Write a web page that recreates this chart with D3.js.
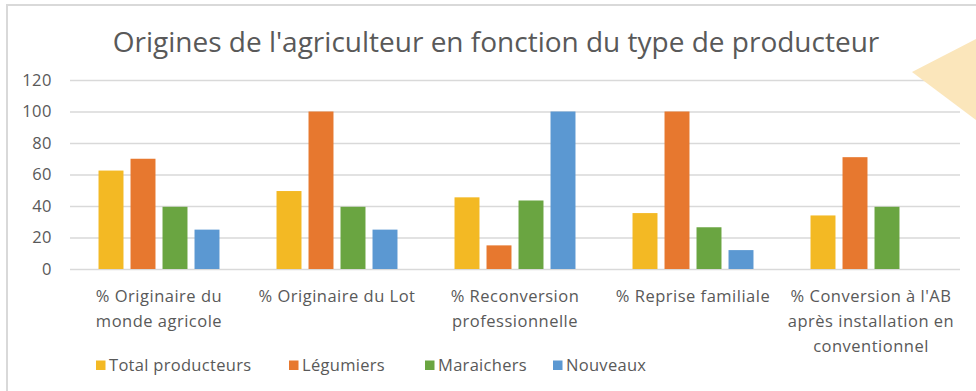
<!DOCTYPE html>
<html>
<head>
<meta charset="utf-8">
<script src="https://cdn.jsdelivr.net/npm/d3@7"></script>
<style>
  html, body { margin: 0; padding: 0; background: #fff; }
  svg { display: block; }
</style>
</head>
<body>
<svg id="chart" width="976" height="391"></svg>
<script>
// Categories (x axis), one wrapped label per group
const categories = [
  ["% Originaire du", "monde agricole"],
  ["% Originaire du Lot"],
  ["% Reconversion", "professionnelle"],
  ["% Reprise familiale"],
  ["% Conversion à l'AB", "après installation en", "conventionnel"]
];
const seriesNames = ["Total producteurs", "Légumiers", "Maraichers", "Nouveaux"];
const totalProducteurs = [62.5, 49.5, 45.5, 35.5, 34];
const legumiers = [70, 100, 15, 100, 71];
const maraichers = [39.5, 39.5, 43.5, 26.5, 39.5];
const nouveaux = [25, 25, 100, 12, 0];
const yTicks = [0, 20, 40, 60, 80, 100, 120];
const colors = ["#F3B924", "#E7782F", "#6AA541", "#5B98D2"];

const title = "Origines de l'agriculteur en fonction du type de producteur";
const font = "'Open Sans', 'Liberation Sans', sans-serif";
const textColor = "#595959";

const series = [totalProducteurs, legumiers, maraichers, nouveaux];
const svg = d3.select("#chart");

// Outer frame of the chart area
svg.append("path")
  .attr("d", "M7,391 V5 H976")
  .attr("fill", "none")
  .attr("stroke", "#d9d9d9")
  .attr("stroke-width", 2);

// Title
svg.append("text")
  .attr("x", 496).attr("y", 52)
  .attr("text-anchor", "middle")
  .attr("font-family", font)
  .attr("font-size", 28)
  .attr("fill", textColor)
  .text(title);

const plot = { left: 70, right: 960, top: 80, bottom: 269 };

const x0 = d3.scaleBand()
  .domain(d3.range(categories.length))
  .range([plot.left, plot.right]);

const x1 = d3.scaleBand()
  .domain(d3.range(seriesNames.length))
  .range([25, 153])
  .paddingInner(0.22)
  .paddingOuter(0.11);

const y = d3.scaleLinear().domain([0, 120]).range([plot.bottom, plot.top]);

// Gridlines and y labels
const yAxis = d3.axisLeft(y).tickValues(yTicks)
  .tickSize(-(plot.right - plot.left));
const gy = svg.append("g")
  .attr("transform", `translate(${plot.left},0)`)
  .call(yAxis);
gy.select(".domain").remove();
gy.selectAll(".tick line").attr("stroke", "#d9d9d9").attr("stroke-width", 1.5);
gy.selectAll(".tick text")
  .attr("x", -18)
  .attr("font-family", font).attr("font-size", 16.5)
  .attr("letter-spacing", 0.5)
  .attr("fill", textColor);

// Bars
const groups = svg.append("g").selectAll("g")
  .data(categories.map((c, i) => i))
  .join("g")
  .attr("transform", i => `translate(${x0(i)},0)`);

groups.selectAll("rect")
  .data(i => series.map((s, k) => ({ k, v: s[i] })).filter(d => d.v > 0))
  .join("rect")
  .attr("x", d => x1(d.k))
  .attr("width", x1.bandwidth())
  .attr("y", d => y(d.v))
  .attr("height", d => y(0) - y(d.v))
  .attr("fill", d => colors[d.k]);

// Category labels
const labels = svg.append("g").selectAll("text")
  .data(categories)
  .join("text")
  .attr("x", (d, i) => x0(i) + x0.bandwidth() / 2)
  .attr("y", 302)
  .attr("text-anchor", "middle")
  .attr("font-family", font)
  .attr("font-size", 16.5)
  .attr("letter-spacing", 0.5)
  .attr("fill", textColor);
labels.selectAll("tspan")
  .data(d => d)
  .join("tspan")
  .attr("x", function () { return d3.select(this.parentNode).attr("x"); })
  .attr("dy", (d, j) => j === 0 ? 0 : 25)
  .text(d => d);

// Legend
const legendX = [96, 289, 425, 553];
const legend = svg.append("g").selectAll("g")
  .data(seriesNames)
  .join("g")
  .attr("transform", (d, i) => `translate(${legendX[i]},371)`);
legend.append("rect")
  .attr("x", 0).attr("y", -10.5).attr("width", 9.5).attr("height", 9.5)
  .attr("fill", (d, i) => colors[i]);
legend.append("text")
  .attr("x", 13).attr("y", 0)
  .attr("font-family", font).attr("font-size", 16.5)
  .attr("letter-spacing", 0.3)
  .attr("fill", textColor)
  .text(d => d);

// Decorative shape in the top-right corner
svg.append("polygon")
  .attr("points", "912,72 976,39 976,120")
  .attr("fill", "#FBE6BB");
</script>
</body>
</html>
